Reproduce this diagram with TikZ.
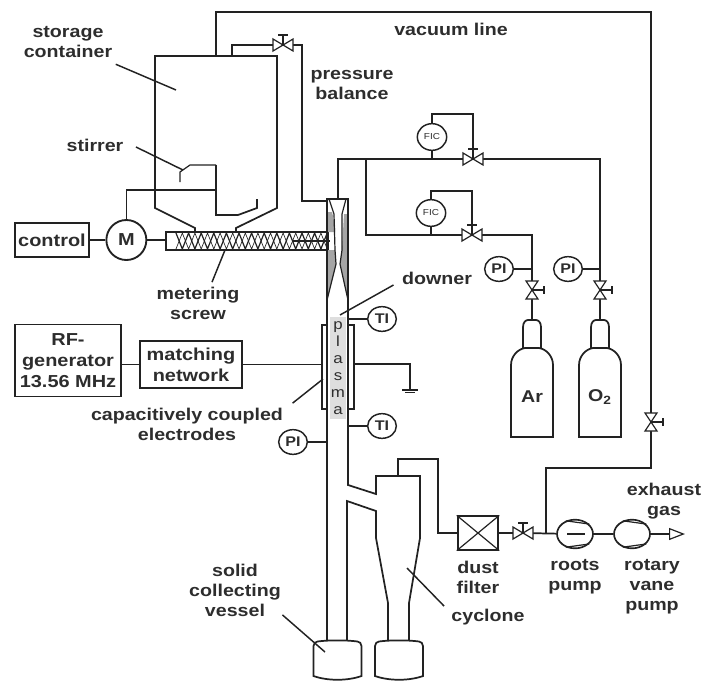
\documentclass[tikz,border=0pt]{standalone}
\usepackage{fontspec}
\setmainfont[FakeStretch=1.15]{Liberation Sans}
\usepackage{xcolor}
\usetikzlibrary{positioning,arrows.meta,calc,shapes.geometric}
\definecolor{pipeline}{RGB}{ 34, 34, 34}
\definecolor{labeltext}{RGB}{ 45, 45, 45}
\definecolor{plasmafill}{RGB}{222,222,222}
\definecolor{nozzlefill}{RGB}{165,165,165}
\begin{document}
\begin{tikzpicture}[
    x=0.75pt,y=-0.75pt,
    pipe/.style={draw=pipeline,line width=1.3pt},
    thinpipe/.style={draw=pipeline,line width=0.9pt},
    leader/.style={draw=pipeline,line width=1.1pt},
    label/.style={font=\fontsize{12.8}{15}\selectfont\bfseries,text=labeltext,align=center,inner sep=1pt},
    box/.style={draw=pipeline,line width=1.4pt,align=center,inner sep=0pt,
                font=\fontsize{13}{15.5}\selectfont\bfseries,text=labeltext},
    gauge/.style={draw=pipeline,line width=1.1pt,ellipse,inner sep=0pt,fill=white,
                  minimum width=21.5pt,minimum height=18.5pt,
                  font=\fontsize{10.5}{12}\selectfont\bfseries,text=labeltext},
    fic/.style={draw=pipeline,line width=1.1pt,ellipse,inner sep=0pt,fill=white,
                minimum width=22pt,minimum height=20pt,
                font=\fontsize{6.5}{8}\selectfont,text=labeltext},
    pump/.style={draw=pipeline,line width=1.25pt,ellipse,inner sep=0pt,fill=white,
                 minimum width=27pt,minimum height=21.5pt},
    hvalve/.pic={
      \draw[thinpipe,fill=white] (-10,-6) -- (10,6) -- (10,-6) -- (-10,6) -- cycle;
      \draw[thinpipe] (0,0) -- (0,-10);
      \draw[pipe] (-5,-10) -- (5,-10);
    },
    vvalve/.pic={
      \draw[thinpipe,fill=white] (-6,-9) -- (6,9) -- (-6,9) -- (6,-9) -- cycle;
      \draw[thinpipe] (0,0) -- (12,0);
      \draw[thinpipe] (12,-4) -- (12,4);
    },
    bottle/.pic={
      \draw[pipe,fill=white] (-9,28) -- (-9,7) .. controls (-9,2) and (-6,0) .. (-4,0)
        -- (4,0) .. controls (6,0) and (9,2) .. (9,7) -- (9,28);
      \draw[pipe,fill=white] (-21,117) -- (-21,45) .. controls (-21,36) and (-14,29) .. (-7,28)
        -- (7,28) .. controls (14,29) and (21,36) .. (21,45) -- (21,117) -- cycle;
    },
    vessel/.pic={
      \draw[pipe,fill=white] (-24,6) .. controls (-24,3) and (-22,2) .. (-20,1.5)
        .. controls (-10,0) and (10,0) .. (20,1.5) .. controls (22,2) and (24,3) .. (24,6)
        -- (24,36) .. controls (10,41) and (-10,41) .. (-24,36) -- cycle;
    },
]
\useasboundingbox (0,0) rectangle (702,682);

% --- junctions of the gas lines ---
\coordinate (vac1) at (216,56);
\coordinate (vac2) at (216,12);
\coordinate (vac3) at (651,12);
\coordinate (vac4) at (651,468);
\coordinate (vac5) at (546,468);
\coordinate (vac6) at (546,533);
\coordinate (bal1) at (232,56);
\coordinate (bal2) at (232,45);
\coordinate (bal3) at (302,45);
\coordinate (bal4) at (302,201);
\coordinate (bal5) at (328,201);
\coordinate (gas1) at (338,199);
\coordinate (gas2) at (338,159);
\coordinate (gas3) at (366,159);
\coordinate (gas4) at (600,159);
\coordinate (gas5) at (366,235);
\coordinate (gas6) at (532,235);
\coordinate (ftee1) at (432,159);
\coordinate (ftee2) at (431,235);
\coordinate (ptee1) at (532,269);
\coordinate (ptee2) at (600,269);
\coordinate (vbal) at (283,45);
\coordinate (vo2)  at (473,159);
\coordinate (var)  at (472,235);
\coordinate (vpar) at (532,290);
\coordinate (vpo2) at (600,290);
\coordinate (vvac) at (651,422);
\coordinate (vout) at (523,533);
\coordinate (artop) at (532,320);
\coordinate (otop)  at (600,320);

% storage container and stirrer
\draw[pipe] (195,232) -- (195,228) -- (155,208) -- (155,56) -- (277,56) -- (277,208) -- (236,228) -- (236,232);
\draw[thinpipe] (180,182) -- (180,172) -- (190,165) -- (216,165);
\draw[pipe] (216,165) -- (216,215) -- (238,215) -- (257,208) -- (257,199);

% screw conveyor
\draw[pipe] (166,232) rectangle (328,250);
\draw[thinpipe] (176,233) foreach \k in {0,...,11} { -- ({176+12.6*\k+6.3},249) -- ({176+12.6*\k+12.6},233) };
\draw[draw=pipeline,line width=0.5pt] (176,249) foreach \k in {0,...,11} { -- ({176+12.6*\k+6.3},233) -- ({176+12.6*\k+12.6},249) };
\draw[pipe] (292,241) -- (330,241);

% downer tube
\node[fill=plasmafill,minimum width=12pt,minimum height=76pt,inner sep=0pt,align=center,
      font=\fontsize{11}{12.7}\selectfont,text=labeltext] (plasma) at (338,368) {p\\l\\a\\s\\m\\a};
\fill[nozzlefill] (328,212) -- (332,212) -- (335,225) -- (335,232) -- (328,232) -- cycle;
\fill[nozzlefill] (328,250) -- (335,250) -- (336,264) -- (328,297) -- cycle;
\fill[nozzlefill] (344,214) -- (347,214) -- (347,297) -- (340,264) -- (342,250) -- cycle;
\draw[pipe] (327,640) -- (327,199) -- (348,199) -- (348,485) -- (376,494) -- (376,476) -- (420,476)
   -- (420,538) -- (409,603) -- (409,640);
\draw[pipe] (347,640) -- (347,501) -- (376,511) -- (376,538) -- (388,603) -- (388,640);
\draw[thinpipe] (329,199) -- (334,214) -- (335,250) -- (336,264) -- (327,300);
\draw[thinpipe] (346,199) -- (342,214) -- (342,250) -- (340,264) -- (348,300);
\draw[thinpipe] (322,325) rectangle (327,409);
\draw[thinpipe] (348,325) rectangle (354,409);

% collecting vessels
\pic at (337.5,640) {vessel};
\pic at (399,640) {vessel};

% boxes and instruments
\node[box,minimum width=56pt,minimum height=25pt] (control) at (52,240) {control};
\node[box,draw,circle,minimum size=30pt,right=0.4cm of control] (motor) {M};
\node[box,minimum width=79pt,minimum height=54pt] (rfgen) at (68,360.5) {RF-\\generator\\13.56 MHz};
\node[box,minimum width=76pt,minimum height=35pt] (match) at (191,364.5) {matching\\network};
\node[gauge] (ti1) at (382,319) {TI};
\node[gauge] (ti2) at (382,426) {TI};
\node[gauge] (pi0) at (293,442) {PI};
\node[gauge] (pi1) at (499,269) {PI};
\node[gauge] (pi2) at (568,269) {PI};
\node[fic] (fic1) at (432,137) {FIC};
\node[fic] (fic2) at (431,213) {FIC};
\node[draw=pipeline,line width=1.4pt,minimum width=30.5pt,minimum height=25pt,inner sep=0pt] (filter) at (478,533) {};
\node[pump] (roots) at (575,534) {};
\node[pump] (rotary) at (632,534) {};
\coordinate (ground) at (410,364);
\coordinate (groundend) at (410,390);
\coordinate (exhaust) at (685,534);

% vacuum line and pressure balance
\draw[pipe] (vac1) -- (vac2) -- (vac3) -- (vac4) -- (vac5) -- (vac6);
\draw[thinpipe] (bal1) -- (bal2) -- (bal3) -- (bal4) -- (bal5);

% feed gas lines
\draw[pipe] (gas1) -- (gas2) -- (gas4) -- (otop);
\draw[pipe] (gas3) -- (gas5) -- (gas6) -- (artop);
\draw[thinpipe] (ftee1) -- (fic1);
\draw[thinpipe] (ftee2) -- (fic2);
\draw[thinpipe] (fic1.north) |- (473,114) -- (vo2);
\draw[thinpipe] (fic2.north) |- (472,191) -- (var);
\draw[thinpipe] (pi1) -- (ptee1);
\draw[thinpipe] (pi2) -- (ptee2);
\pic at (artop) {bottle};
\pic at (otop) {bottle};

% motor drive
\draw[thinpipe] (control) -- (motor);
\draw[thinpipe] (motor) -- (166,240);
\draw[thinpipe] (motor.north) |- (216,190);

% plasma source and instruments on the downer
\draw[thinpipe] (rfgen.east |- match) -- (match);
\draw[thinpipe] (match) -- (322,364.5);
\draw[thinpipe] (354,364) -- (ground) -- (groundend);
\draw[pipe] (402,390) -- (418,390);
\draw[thinpipe] (405,392.5) -- (415,392.5);
\draw[thinpipe] (348,319) -- (ti1);
\draw[thinpipe] (348,426) -- (ti2);
\draw[thinpipe] (pi0) -- (327,442);

% outlet line
\draw[pipe] (398,476) -- (398,459) -- (438,459) -- (438,533) -- (filter);
\draw[thinpipe] (filter.north west) -- (filter.south east);
\draw[thinpipe] (filter.north east) -- (filter.south west);
\draw[thinpipe] (filter) -- (vout);
\draw[pipe] (vout) -- (roots);
\draw[pipe] (roots) -- (rotary);
\draw[thinpipe,-{Triangle[open,length=12pt,width=9pt]}] (rotary) -- (exhaust);
\draw[pipe] (567,534) -- (585,534);
\draw[thinpipe] (roots.125) -- (roots.35);
\draw[thinpipe] (roots.-125) -- (roots.-35);
\draw[thinpipe] (rotary.125) -- (rotary.35);
\draw[thinpipe] (rotary.-125) -- (rotary.-35);

% valves
\pic at (vbal) {hvalve};
\pic at (vo2) {hvalve};
\pic at (var) {hvalve};
\pic at (vout) {hvalve};
\pic at (vpar) {vvalve};
\pic at (vpo2) {vvalve};
\pic at (vvac) {vvalve};

% labels
\node[label] (storagelbl) at (68,42) {storage\\container};
\node[label] (stirrerlbl) at (95,145) {stirrer};
\node[label] (meterlbl) at (198,303) {metering\\screw};
\node[label] (balancelbl) at (352,85) {pressure\\balance};
\node[label] (vacuumlbl) at (451,29) {vacuum line};
\node[label] (downerlbl) at (437,278) {downer};
\node[label] (electrodelbl) at (187,424) {capacitively coupled\\electrodes};
\node[label] (solidlbl) at (235,590) {solid\\collecting\\vessel};
\node[label] (cyclonelbl) at (488,617) {cyclone};
\node[label] (filterlbl) at (478,577) {dust\\filter};
\node[label] (rootslbl) at (575,577) {roots\\pump};
\node[label] (rotarylbl) at (652,587) {rotary\\vane\\pump};
\node[label] (exhaustlbl) at (664,501.5) {exhaust\\gas};
\node[label] at (532,397) {Ar};
\node[label] at (600,397) {O\textsubscript{2}};

% leader lines
\coordinate (storagetip) at (176,90);
\coordinate (stirrertip) at (183,170);
\coordinate (metertip) at (225,250);
\coordinate (downertip) at (340,315);
\coordinate (electrodetip) at (323,379);
\coordinate (solidtip) at (325,652);
\coordinate (cyclonetip) at (407,568);
\coordinate (cyclonestart) at (444,606);
\draw[leader] ($(storagelbl.south east)+(2,5)$) -- (storagetip);
\draw[leader] ($(stirrerlbl.east)+(11,2)$) -- (stirrertip);
\draw[leader] ($(meterlbl.north)+(14,-3)$) -- (metertip);
\draw[leader] ($(downerlbl.west)+(-7,7)$) -- (downertip);
\draw[leader] ($(electrodelbl.north east)+(8,-3)$) -- (electrodetip);
\draw[leader] ($(solidlbl.south east)+(0,-3)$) -- (solidtip);
\draw[leader] (cyclonestart) -- (cyclonetip);
\end{tikzpicture}
\end{document}
